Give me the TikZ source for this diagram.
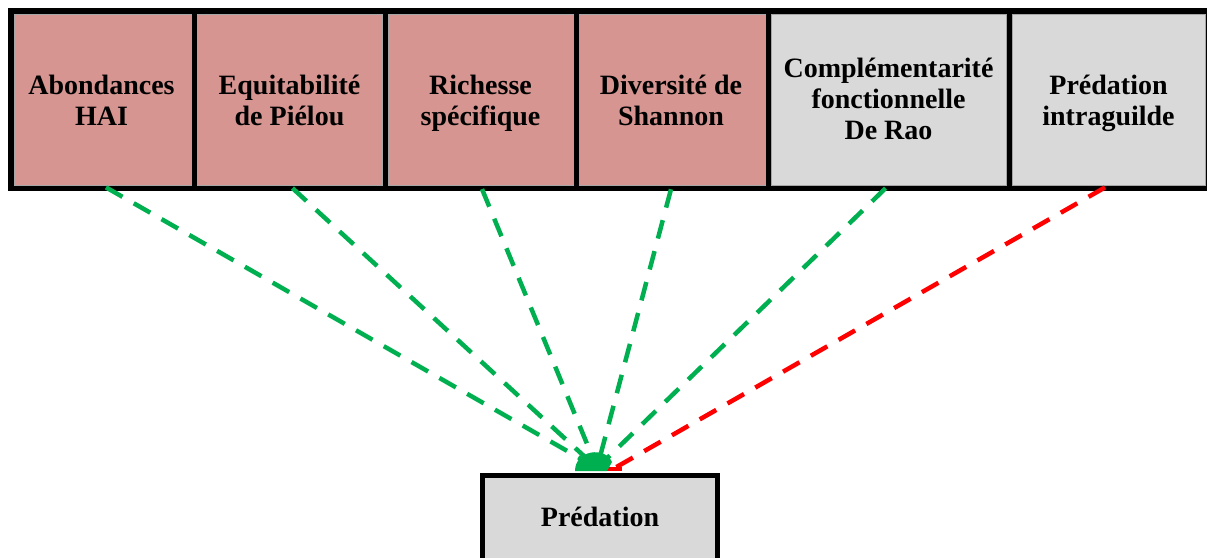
\documentclass[tikz,border=0pt]{standalone}
\usepackage{fontspec}
\setmainfont{Liberation Serif}
\definecolor{pinkbox}{HTML}{D69591}
\definecolor{greybox}{HTML}{D9D9D9}
\definecolor{lgreen}{HTML}{00B050}
\definecolor{lred}{HTML}{FF0000}
\newcommand{\ls}{\rule{0pt}{21.7pt}\rule[-9.3pt]{0pt}{9.3pt}}
\begin{document}
\begin{tikzpicture}[x=1pt,y=-1pt,
  txt/.style={font=\fontsize{28}{31}\selectfont\bfseries, text=black},
  cell/.style={rectangle, draw=gray!70, line width=0.8pt, inner sep=0pt, align=center, txt},
  pinkcell/.style={cell, fill=pinkbox},
  greycell/.style={cell, fill=greybox},
  link/.style={dash pattern=on 19pt off 13pt, line width=4.5pt, shorten <=4pt},
  glink/.style={link, draw=lgreen},
  rlink/.style={link, draw=lred}]
\useasboundingbox (0,0) rectangle (1207,557);
\clip (0,0) rectangle (1207,557);
% outer black frame
\fill[black] (8,8) rectangle (1220,191);
% boxes
\node[pinkcell, minimum width=177pt, minimum height=171pt] (b1) at (102.5,99.5) {};
\node[txt, align=center, inner sep=0pt] (t1) at (101.5,103.5) {\ls Abondances\\\ls HAI};
\node[pinkcell, minimum width=185pt, minimum height=171pt] (b2) at (289.5,99.5) {};
\node[txt, align=center, inner sep=0pt] (t2) at (289.5,103.5) {\ls Equitabilité\\\ls de Piélou};
\node[pinkcell, minimum width=185pt, minimum height=171pt] (b3) at (480.5,99.5) {};
\node[txt, align=center, inner sep=0pt] (t3) at (480.5,103.5) {\ls Richesse\\\ls spécifique};
\node[pinkcell, minimum width=186pt, minimum height=171pt] (b4) at (672,99.5) {};
\node[txt, align=center, inner sep=0pt] (t4) at (671,103.5) {\ls Diversité de\\\ls Shannon};
\node[greycell, minimum width=235pt, minimum height=171pt] (b5) at (888.5,99.5) {};
\node[txt, align=center, inner sep=0pt] (t5) at (888.5,102.5) {\ls Complémentarité\\\ls fonctionnelle\\\ls De Rao};
\node[greycell, minimum width=193pt, minimum height=171pt] (b6) at (1108.5,99.5) {};
\node[txt, align=center, inner sep=0pt] (t6) at (1108.5,103.5) {\ls Prédation\\\ls intraguilde};
% bottom box
\node[rectangle, draw=black, line width=5pt, fill=greybox, minimum width=235pt, minimum height=91pt,
  inner sep=0pt, txt, anchor=north] (pred) at (600,472.5) {\ls Prédation};
% convergence points
\coordinate (hub) at (597,468);
\coordinate (hubr) at (613,469);
% connectors
\draw[rlink] (b6.south) -- (hubr);
\draw[glink] (b1.south) -- (hub);
\draw[glink] (b2.south) -- (hub);
\draw[glink] (b3.south) -- (hub);
\draw[glink] (b4.south) -- (hub);
\draw[glink] (b5.south) -- (hub);
% green blob where the lines meet
\draw[lred, line width=3.5pt] (600,469) -- (622,469);
\fill[lgreen] (575,471) .. controls (575,450) and (605,446) .. (612,462) -- (607,471) -- cycle;
\end{tikzpicture}
\end{document}
